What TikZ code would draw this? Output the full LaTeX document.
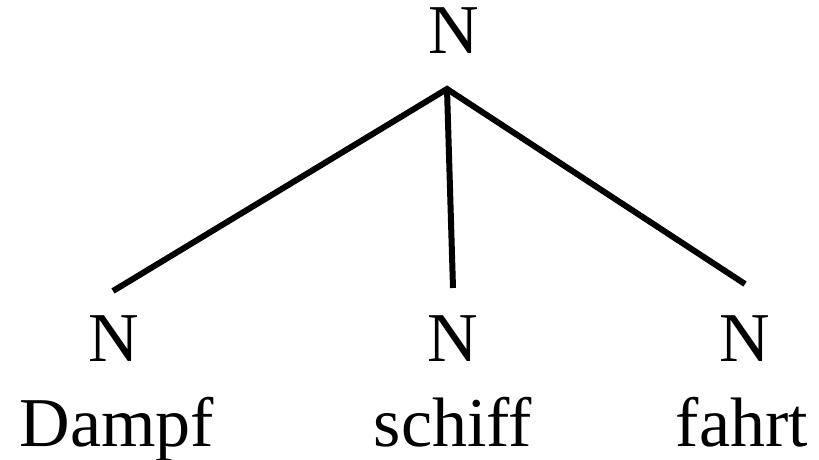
\documentclass[tikz,border=0pt]{standalone}
\usepackage{fontspec}
\setmainfont{Liberation Serif}
\usetikzlibrary{positioning}

\begin{document}
\begin{tikzpicture}[x=1pt, y=-1pt]
      \useasboundingbox (0, 0) rectangle (819, 460);
      \tikzset{cat/.style={anchor=base, inner sep=0pt, font=\fontsize{70}{70}\selectfont},
               branch/.style={line width=6pt}}

      \node[cat] (root) at (453.5, 54) {N};
      \node[cat] (n1) at (114, 361) {N};
      \node[cat] (n2) at (453, 361) {N};
      \node[cat] (n3) at (745, 361) {N};

      \node[cat] (w1) at (117, 446) {Dampf};
      \node[cat] (w2) at (453, 446) {schiff};
      \node[cat] (w3) at (742, 446) {fahrt};

      \coordinate (top) at (447, 89);
      \coordinate (e1) at (113, 291);
      \coordinate (e2) at (453, 288);
      \coordinate (e3) at (745, 284);

      \draw[branch] (e1) -- (top) -- (e3);
      \draw[branch] (top) -- (e2);

    \end{tikzpicture}
\end{document}
